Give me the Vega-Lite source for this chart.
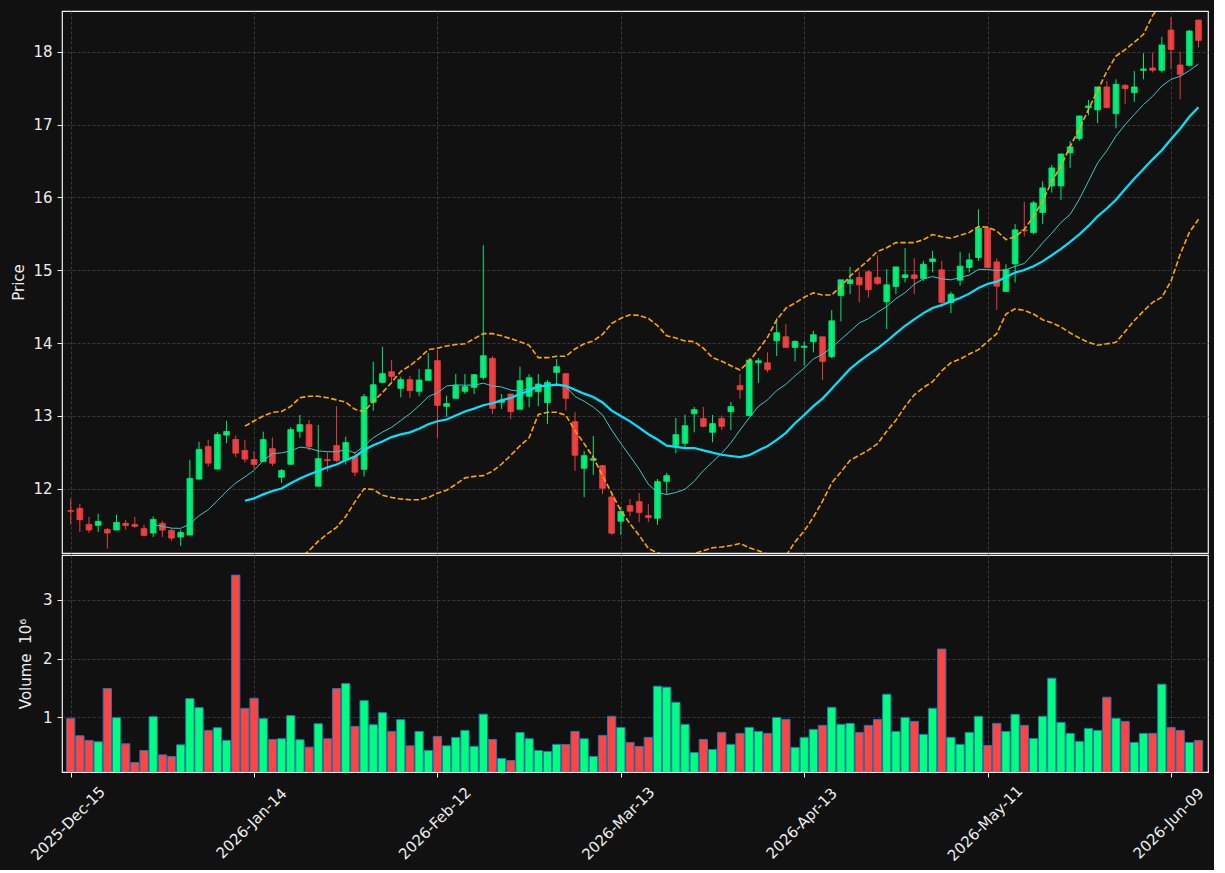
{
  "$schema": "https://vega.github.io/schema/vega-lite/v6.json",
  "background": "#111111",
  "padding": {"left": 10, "top": 10, "right": 5, "bottom": 5},
  "datasets": {
    "ohlc": [
      {"i":0,"open":11.700,"high":11.863,"low":11.511,"close":11.690,"volume":0.982},
      {"i":1,"open":11.730,"high":11.794,"low":11.406,"close":11.575,"volume":0.686},
      {"i":2,"open":11.511,"high":11.616,"low":11.392,"close":11.433,"volume":0.607},
      {"i":3,"open":11.497,"high":11.657,"low":11.406,"close":11.552,"volume":0.584},
      {"i":4,"open":11.442,"high":11.460,"low":11.177,"close":11.392,"volume":1.490},
      {"i":5,"open":11.433,"high":11.643,"low":11.433,"close":11.538,"volume":0.994},
      {"i":6,"open":11.525,"high":11.575,"low":11.438,"close":11.497,"volume":0.549},
      {"i":7,"open":11.511,"high":11.616,"low":11.465,"close":11.483,"volume":0.230},
      {"i":8,"open":11.456,"high":11.506,"low":11.342,"close":11.360,"volume":0.435},
      {"i":9,"open":11.392,"high":11.621,"low":11.337,"close":11.579,"volume":1.011,"ma10":11.510},
      {"i":10,"open":11.525,"high":11.557,"low":11.337,"close":11.433,"volume":0.361,"ma10":11.484},
      {"i":11,"open":11.429,"high":11.447,"low":11.287,"close":11.323,"volume":0.333,"ma10":11.459},
      {"i":12,"open":11.337,"high":11.438,"low":11.214,"close":11.401,"volume":0.532,"ma10":11.456},
      {"i":13,"open":11.364,"high":12.398,"low":11.364,"close":12.142,"volume":1.319,"ma10":11.515},
      {"i":14,"open":12.133,"high":12.645,"low":12.124,"close":12.540,"volume":1.165,"ma10":11.630},
      {"i":15,"open":12.581,"high":12.672,"low":12.306,"close":12.352,"volume":0.777,"ma10":11.711},
      {"i":16,"open":12.270,"high":12.777,"low":12.270,"close":12.745,"volume":0.823,"ma10":11.836},
      {"i":17,"open":12.736,"high":12.933,"low":12.626,"close":12.786,"volume":0.607,"ma10":11.966},
      {"i":18,"open":12.677,"high":12.731,"low":12.434,"close":12.489,"volume":3.421,"ma10":12.079},
      {"i":19,"open":12.526,"high":12.672,"low":12.361,"close":12.407,"volume":1.153,"ma10":12.162,"ma20":11.836,"bb_upper":12.86,"bb_lower":10.82},
      {"i":20,"open":12.402,"high":12.517,"low":12.274,"close":12.334,"volume":1.324,"ma10":12.252,"ma20":11.868,"bb_upper":12.93,"bb_lower":10.81},
      {"i":21,"open":12.373,"high":12.785,"low":12.373,"close":12.675,"volume":0.977,"ma10":12.387,"ma20":11.923,"bb_upper":13.00,"bb_lower":10.85},
      {"i":22,"open":12.551,"high":12.702,"low":12.314,"close":12.350,"volume":0.623,"ma10":12.482,"ma20":11.969,"bb_upper":13.05,"bb_lower":10.89},
      {"i":23,"open":12.158,"high":12.272,"low":12.080,"close":12.250,"volume":0.635,"ma10":12.493,"ma20":12.004,"bb_upper":13.06,"bb_lower":10.95},
      {"i":24,"open":12.336,"high":12.844,"low":12.336,"close":12.812,"volume":1.028,"ma10":12.520,"ma20":12.075,"bb_upper":13.13,"bb_lower":11.02},
      {"i":25,"open":12.789,"high":13.013,"low":12.698,"close":12.881,"volume":0.618,"ma10":12.573,"ma20":12.142,"bb_upper":13.25,"bb_lower":11.05},
      {"i":26,"open":12.881,"high":12.944,"low":12.524,"close":12.579,"volume":0.492,"ma10":12.556,"ma20":12.196,"bb_upper":13.27,"bb_lower":11.15},
      {"i":27,"open":12.035,"high":12.876,"low":12.035,"close":12.414,"volume":0.891,"ma10":12.519,"ma20":12.243,"bb_upper":13.27,"bb_lower":11.28},
      {"i":28,"open":12.400,"high":12.501,"low":12.236,"close":12.387,"volume":0.635,"ma10":12.509,"ma20":12.294,"bb_upper":13.25,"bb_lower":11.38},
      {"i":29,"open":12.593,"high":13.132,"low":12.364,"close":12.387,"volume":1.490,"ma10":12.507,"ma20":12.334,"bb_upper":13.22,"bb_lower":11.47},
      {"i":30,"open":12.400,"high":12.716,"low":12.332,"close":12.634,"volume":1.575,"ma10":12.537,"ma20":12.394,"bb_upper":13.19,"bb_lower":11.62},
      {"i":31,"open":12.446,"high":12.501,"low":12.172,"close":12.227,"volume":0.846,"ma10":12.492,"ma20":12.440,"bb_upper":13.09,"bb_lower":11.82},
      {"i":32,"open":12.267,"high":13.301,"low":12.167,"close":13.264,"volume":1.284,"ma10":12.584,"ma20":12.533,"bb_upper":13.06,"bb_lower":12.00},
      {"i":33,"open":13.187,"high":13.745,"low":13.072,"close":13.429,"volume":0.874,"ma10":12.701,"ma20":12.597,"bb_upper":13.20,"bb_lower":11.99},
      {"i":34,"open":13.461,"high":13.950,"low":13.461,"close":13.580,"volume":1.079,"ma10":12.778,"ma20":12.649,"bb_upper":13.32,"bb_lower":11.91},
      {"i":35,"open":13.607,"high":13.767,"low":13.461,"close":13.543,"volume":0.760,"ma10":12.844,"ma20":12.709,"bb_upper":13.46,"bb_lower":11.88},
      {"i":36,"open":13.379,"high":13.539,"low":13.255,"close":13.498,"volume":0.960,"ma10":12.936,"ma20":12.746,"bb_upper":13.61,"bb_lower":11.86},
      {"i":37,"open":13.498,"high":13.548,"low":13.246,"close":13.347,"volume":0.515,"ma10":13.030,"ma20":12.774,"bb_upper":13.69,"bb_lower":11.85},
      {"i":38,"open":13.338,"high":13.644,"low":13.269,"close":13.493,"volume":0.760,"ma10":13.140,"ma20":12.825,"bb_upper":13.79,"bb_lower":11.85},
      {"i":39,"open":13.489,"high":13.864,"low":13.489,"close":13.635,"volume":0.435,"ma10":13.265,"ma20":12.886,"bb_upper":13.91,"bb_lower":11.88},
      {"i":40,"open":13.759,"high":13.905,"low":12.698,"close":13.146,"volume":0.675,"ma10":13.316,"ma20":12.927,"bb_upper":13.93,"bb_lower":11.94},
      {"i":41,"open":13.132,"high":13.279,"low":12.985,"close":13.169,"volume":0.515,"ma10":13.410,"ma20":12.951,"bb_upper":13.96,"bb_lower":11.98},
      {"i":42,"open":13.242,"high":13.576,"low":13.242,"close":13.420,"volume":0.658,"ma10":13.426,"ma20":13.005,"bb_upper":13.98,"bb_lower":12.06},
      {"i":43,"open":13.338,"high":13.576,"low":13.301,"close":13.402,"volume":0.777,"ma10":13.423,"ma20":13.062,"bb_upper":13.99,"bb_lower":12.15},
      {"i":44,"open":13.392,"high":13.576,"low":13.301,"close":13.566,"volume":0.504,"ma10":13.422,"ma20":13.100,"bb_upper":14.06,"bb_lower":12.17},
      {"i":45,"open":13.529,"high":15.345,"low":13.498,"close":13.827,"volume":1.054,"ma10":13.450,"ma20":13.147,"bb_upper":14.13,"bb_lower":12.18},
      {"i":46,"open":13.790,"high":13.822,"low":13.027,"close":13.104,"volume":0.623,"ma10":13.411,"ma20":13.174,"bb_upper":14.13,"bb_lower":12.24},
      {"i":47,"open":13.187,"high":13.301,"low":13.096,"close":13.219,"volume":0.299,"ma10":13.398,"ma20":13.214,"bb_upper":14.10,"bb_lower":12.34},
      {"i":48,"open":13.301,"high":13.301,"low":12.958,"close":13.059,"volume":0.265,"ma10":13.355,"ma20":13.247,"bb_upper":14.06,"bb_lower":12.46},
      {"i":49,"open":13.091,"high":13.676,"low":13.091,"close":13.484,"volume":0.743,"ma10":13.340,"ma20":13.302,"bb_upper":14.02,"bb_lower":12.59},
      {"i":50,"open":13.269,"high":13.576,"low":13.118,"close":13.525,"volume":0.635,"ma10":13.378,"ma20":13.347,"bb_upper":13.97,"bb_lower":12.70},
      {"i":51,"open":13.333,"high":13.576,"low":13.132,"close":13.438,"volume":0.435,"ma10":13.404,"ma20":13.407,"bb_upper":13.80,"bb_lower":13.02},
      {"i":52,"open":13.182,"high":13.493,"low":12.890,"close":13.461,"volume":0.418,"ma10":13.409,"ma20":13.417,"bb_upper":13.80,"bb_lower":13.05},
      {"i":53,"open":13.598,"high":13.781,"low":13.438,"close":13.676,"volume":0.538,"ma10":13.436,"ma20":13.430,"bb_upper":13.82,"bb_lower":13.05},
      {"i":54,"open":13.580,"high":13.580,"low":13.073,"close":13.242,"volume":0.538,"ma10":13.404,"ma20":13.413,"bb_upper":13.82,"bb_lower":13.01},
      {"i":55,"open":12.921,"high":13.050,"low":12.245,"close":12.460,"volume":0.760,"ma10":13.267,"ma20":13.359,"bb_upper":13.92,"bb_lower":12.80},
      {"i":56,"open":12.281,"high":12.519,"low":11.884,"close":12.455,"volume":0.635,"ma10":13.202,"ma20":13.306,"bb_upper":13.99,"bb_lower":12.62},
      {"i":57,"open":12.392,"high":12.725,"low":12.190,"close":12.414,"volume":0.333,"ma10":13.121,"ma20":13.260,"bb_upper":14.03,"bb_lower":12.43},
      {"i":58,"open":12.318,"high":12.318,"low":11.929,"close":12.007,"volume":0.692,"ma10":13.016,"ma20":13.185,"bb_upper":14.12,"bb_lower":12.18},
      {"i":59,"open":11.888,"high":11.943,"low":11.367,"close":11.390,"volume":1.017,"ma10":12.807,"ma20":13.073,"bb_upper":14.27,"bb_lower":11.94},
      {"i":60,"open":11.554,"high":11.755,"low":11.367,"close":11.687,"volume":0.828,"ma10":12.623,"ma20":13.000,"bb_upper":14.34,"bb_lower":11.70},
      {"i":61,"open":11.769,"high":11.858,"low":11.623,"close":11.691,"volume":0.572,"ma10":12.448,"ma20":12.926,"bb_upper":14.39,"bb_lower":11.52},
      {"i":62,"open":11.824,"high":11.943,"low":11.540,"close":11.673,"volume":0.504,"ma10":12.270,"ma20":12.839,"bb_upper":14.38,"bb_lower":11.36},
      {"i":63,"open":11.632,"high":11.792,"low":11.540,"close":11.604,"volume":0.658,"ma10":12.062,"ma20":12.749,"bb_upper":14.34,"bb_lower":11.18},
      {"i":64,"open":11.595,"high":12.134,"low":11.504,"close":12.098,"volume":1.530,"ma10":11.948,"ma20":12.676,"bb_upper":14.24,"bb_lower":11.12},
      {"i":65,"open":12.102,"high":12.217,"low":11.929,"close":12.180,"volume":1.513,"ma10":11.920,"ma20":12.593,"bb_upper":14.10,"bb_lower":11.09},
      {"i":66,"open":12.592,"high":12.972,"low":12.487,"close":12.743,"volume":1.256,"ma10":11.949,"ma20":12.575,"bb_upper":14.07,"bb_lower":11.08},
      {"i":67,"open":12.624,"high":13.017,"low":12.578,"close":12.866,"volume":0.880,"ma10":11.994,"ma20":12.558,"bb_upper":14.03,"bb_lower":11.09},
      {"i":68,"open":13.030,"high":13.123,"low":12.775,"close":13.086,"volume":0.401,"ma10":12.102,"ma20":12.559,"bb_upper":14.02,"bb_lower":11.11},
      {"i":69,"open":12.963,"high":13.123,"low":12.843,"close":12.857,"volume":0.623,"ma10":12.249,"ma20":12.528,"bb_upper":13.93,"bb_lower":11.15},
      {"i":70,"open":12.775,"high":13.013,"low":12.638,"close":12.894,"volume":0.452,"ma10":12.369,"ma20":12.496,"bb_upper":13.80,"bb_lower":11.19},
      {"i":71,"open":12.963,"high":13.004,"low":12.807,"close":12.857,"volume":0.743,"ma10":12.486,"ma20":12.467,"bb_upper":13.75,"bb_lower":11.20},
      {"i":72,"open":13.059,"high":13.191,"low":12.807,"close":13.127,"volume":0.538,"ma10":12.631,"ma20":12.450,"bb_upper":13.69,"bb_lower":11.22},
      {"i":73,"open":13.416,"high":13.576,"low":13.233,"close":13.361,"volume":0.726,"ma10":12.807,"ma20":12.435,"bb_upper":13.63,"bb_lower":11.25},
      {"i":74,"open":13.004,"high":13.795,"low":13.004,"close":13.767,"volume":0.828,"ma10":12.974,"ma20":12.461,"bb_upper":13.75,"bb_lower":11.19},
      {"i":75,"open":13.730,"high":13.795,"low":13.452,"close":13.758,"volume":0.760,"ma10":13.132,"ma20":12.526,"bb_upper":13.91,"bb_lower":11.15},
      {"i":76,"open":13.730,"high":13.873,"low":13.598,"close":13.635,"volume":0.726,"ma10":13.221,"ma20":12.585,"bb_upper":14.08,"bb_lower":11.10},
      {"i":77,"open":14.032,"high":14.343,"low":13.822,"close":14.142,"volume":0.999,"ma10":13.348,"ma20":12.671,"bb_upper":14.32,"bb_lower":11.04},
      {"i":78,"open":14.087,"high":14.261,"low":13.941,"close":13.941,"volume":0.965,"ma10":13.434,"ma20":12.768,"bb_upper":14.48,"bb_lower":11.08},
      {"i":79,"open":13.941,"high":14.041,"low":13.749,"close":14.023,"volume":0.487,"ma10":13.551,"ma20":12.900,"bb_upper":14.55,"bb_lower":11.27},
      {"i":80,"open":13.941,"high":14.023,"low":13.690,"close":13.959,"volume":0.658,"ma10":13.657,"ma20":13.013,"bb_upper":14.63,"bb_lower":11.42},
      {"i":81,"open":14.018,"high":14.169,"low":13.873,"close":14.114,"volume":0.794,"ma10":13.783,"ma20":13.134,"bb_upper":14.69,"bb_lower":11.61},
      {"i":82,"open":14.087,"high":14.087,"low":13.493,"close":13.749,"volume":0.863,"ma10":13.845,"ma20":13.238,"bb_upper":14.66,"bb_lower":11.83},
      {"i":83,"open":13.813,"high":14.452,"low":13.795,"close":14.306,"volume":1.170,"ma10":13.939,"ma20":13.373,"bb_upper":14.66,"bb_lower":12.08},
      {"i":84,"open":14.654,"high":14.869,"low":14.297,"close":14.869,"volume":0.880,"ma10":14.050,"ma20":13.512,"bb_upper":14.78,"bb_lower":12.23},
      {"i":85,"open":14.819,"high":15.046,"low":14.672,"close":14.869,"volume":0.897,"ma10":14.161,"ma20":13.646,"bb_upper":14.92,"bb_lower":12.39},
      {"i":86,"open":14.901,"high":14.983,"low":14.558,"close":14.800,"volume":0.743,"ma10":14.277,"ma20":13.749,"bb_upper":15.03,"bb_lower":12.46},
      {"i":87,"open":14.979,"high":15.001,"low":14.626,"close":14.732,"volume":0.863,"ma10":14.336,"ma20":13.842,"bb_upper":15.14,"bb_lower":12.53},
      {"i":88,"open":14.901,"high":15.206,"low":14.796,"close":14.819,"volume":0.965,"ma10":14.424,"ma20":13.929,"bb_upper":15.26,"bb_lower":12.62},
      {"i":89,"open":14.567,"high":15.015,"low":14.193,"close":14.800,"volume":1.393,"ma10":14.502,"ma20":14.026,"bb_upper":15.31,"bb_lower":12.79},
      {"i":90,"open":14.778,"high":15.046,"low":14.672,"close":15.046,"volume":0.760,"ma10":14.610,"ma20":14.134,"bb_upper":15.38,"bb_lower":12.94},
      {"i":91,"open":14.901,"high":15.303,"low":14.833,"close":14.937,"volume":0.999,"ma10":14.693,"ma20":14.238,"bb_upper":15.38,"bb_lower":13.13},
      {"i":92,"open":14.937,"high":15.166,"low":14.672,"close":14.887,"volume":0.931,"ma10":14.807,"ma20":14.326,"bb_upper":15.38,"bb_lower":13.29},
      {"i":93,"open":14.887,"high":15.129,"low":14.855,"close":15.083,"volume":0.709,"ma10":14.884,"ma20":14.412,"bb_upper":15.42,"bb_lower":13.39},
      {"i":94,"open":15.120,"high":15.266,"low":14.970,"close":15.156,"volume":1.153,"ma10":14.913,"ma20":14.481,"bb_upper":15.49,"bb_lower":13.47},
      {"i":95,"open":15.006,"high":15.129,"low":14.489,"close":14.558,"volume":2.162,"ma10":14.882,"ma20":14.521,"bb_upper":15.46,"bb_lower":13.62},
      {"i":96,"open":14.558,"high":14.704,"low":14.412,"close":14.672,"volume":0.658,"ma10":14.869,"ma20":14.573,"bb_upper":15.44,"bb_lower":13.73},
      {"i":97,"open":14.864,"high":15.253,"low":14.787,"close":15.056,"volume":0.538,"ma10":14.901,"ma20":14.619,"bb_upper":15.48,"bb_lower":13.78},
      {"i":98,"open":15.038,"high":15.234,"low":14.970,"close":15.143,"volume":0.743,"ma10":14.934,"ma20":14.679,"bb_upper":15.52,"bb_lower":13.85},
      {"i":99,"open":15.175,"high":15.838,"low":15.129,"close":15.577,"volume":1.017,"ma10":15.012,"ma20":14.757,"bb_upper":15.60,"bb_lower":13.91},
      {"i":100,"open":15.577,"high":15.609,"low":15.038,"close":15.038,"volume":0.521,"ma10":15.011,"ma20":14.811,"bb_upper":15.59,"bb_lower":14.02},
      {"i":101,"open":15.115,"high":15.166,"low":14.455,"close":14.782,"volume":0.897,"ma10":14.995,"ma20":14.844,"bb_upper":15.54,"bb_lower":14.13},
      {"i":102,"open":14.709,"high":15.083,"low":14.709,"close":15.006,"volume":0.760,"ma10":15.007,"ma20":14.907,"bb_upper":15.42,"bb_lower":14.40},
      {"i":103,"open":15.088,"high":15.633,"low":14.833,"close":15.555,"volume":1.051,"ma10":15.054,"ma20":14.969,"bb_upper":15.46,"bb_lower":14.47},
      {"i":104,"open":15.554,"high":15.940,"low":15.465,"close":15.540,"volume":0.863,"ma10":15.093,"ma20":15.003,"bb_upper":15.56,"bb_lower":14.45},
      {"i":105,"open":15.518,"high":15.953,"low":15.496,"close":15.925,"volume":0.640,"ma10":15.229,"ma20":15.056,"bb_upper":15.74,"bb_lower":14.40},
      {"i":106,"open":15.793,"high":16.222,"low":15.633,"close":16.131,"volume":1.017,"ma10":15.375,"ma20":15.122,"bb_upper":15.95,"bb_lower":14.32},
      {"i":107,"open":16.158,"high":16.446,"low":16.067,"close":16.405,"volume":1.667,"ma10":15.510,"ma20":15.206,"bb_upper":16.22,"bb_lower":14.28},
      {"i":108,"open":16.158,"high":16.597,"low":15.962,"close":16.597,"volume":0.914,"ma10":15.656,"ma20":15.295,"bb_upper":16.43,"bb_lower":14.22},
      {"i":109,"open":16.612,"high":16.776,"low":16.401,"close":16.694,"volume":0.726,"ma10":15.767,"ma20":15.389,"bb_upper":16.70,"bb_lower":14.14},
      {"i":110,"open":16.808,"high":17.119,"low":16.776,"close":17.119,"volume":0.589,"ma10":15.975,"ma20":15.493,"bb_upper":16.94,"bb_lower":14.07},
      {"i":111,"open":17.233,"high":17.338,"low":17.128,"close":17.256,"volume":0.811,"ma10":16.223,"ma20":15.609,"bb_upper":17.21,"bb_lower":14.01},
      {"i":112,"open":17.202,"high":17.517,"low":17.019,"close":17.517,"volume":0.777,"ma10":16.474,"ma20":15.741,"bb_upper":17.47,"bb_lower":13.97},
      {"i":113,"open":17.517,"high":17.599,"low":17.224,"close":17.233,"volume":1.342,"ma10":16.642,"ma20":15.848,"bb_upper":17.73,"bb_lower":13.99},
      {"i":114,"open":17.151,"high":17.622,"low":16.950,"close":17.554,"volume":0.982,"ma10":16.843,"ma20":15.968,"bb_upper":17.94,"bb_lower":14.01},
      {"i":115,"open":17.540,"high":17.554,"low":17.279,"close":17.494,"volume":0.931,"ma10":17.000,"ma20":16.115,"bb_upper":18.03,"bb_lower":14.16},
      {"i":116,"open":17.439,"high":17.736,"low":17.311,"close":17.517,"volume":0.572,"ma10":17.139,"ma20":16.257,"bb_upper":18.13,"bb_lower":14.31},
      {"i":117,"open":17.746,"high":17.979,"low":17.622,"close":17.764,"volume":0.726,"ma10":17.275,"ma20":16.392,"bb_upper":18.24,"bb_lower":14.44},
      {"i":118,"open":17.777,"high":17.988,"low":17.714,"close":17.746,"volume":0.726,"ma10":17.389,"ma20":16.523,"bb_upper":18.50,"bb_lower":14.56},
      {"i":119,"open":17.746,"high":18.207,"low":17.714,"close":18.093,"volume":1.564,"ma10":17.529,"ma20":16.648,"bb_upper":18.66,"bb_lower":14.63},
      {"i":120,"open":18.298,"high":18.477,"low":17.768,"close":18.032,"volume":0.828,"ma10":17.621,"ma20":16.798,"bb_upper":18.75,"bb_lower":14.85},
      {"i":121,"open":17.819,"high":18.002,"low":17.348,"close":17.691,"volume":0.777,"ma10":17.664,"ma20":16.943,"bb_upper":18.68,"bb_lower":15.22},
      {"i":122,"open":17.814,"high":18.299,"low":17.814,"close":18.285,"volume":0.572,"ma10":17.741,"ma20":17.107,"bb_upper":18.70,"bb_lower":15.52},
      {"i":123,"open":18.436,"high":18.436,"low":18.057,"close":18.157,"volume":0.606,"ma10":17.833,"ma20":17.238,"bb_upper":18.78,"bb_lower":15.70}
    ]
  },
  "data": {"name": "ohlc"},
  "spacing": 0,
  "resolve": {"scale": {"x": "independent", "y": "independent"}},
  "vconcat": [
    {
      "width": 1146,
      "height": 542,
      "encoding": {
        "x": {"field": "i", "type": "quantitative",
              "scale": {"domain": [-0.4, 123.49], "nice": false, "zero": false},
              "axis": {"values": [0,20,40,60,80,100,120], "labels": false, "ticks": false, "domain": false, "title": null, "grid": true, "minExtent": 0, "maxExtent": 0}}
      },
      "layer": [
        {
          "mark": {"type": "rule", "strokeWidth": 1, "opacity": 0.9, "clip": true},
          "encoding": {
            "y": {"field": "low", "type": "quantitative",
                  "scale": {"domain": [11.118, 18.56], "nice": false, "zero": false},
                  "axis": {"values": [12,13,14,15,16,17,18], "format": "d", "title": "Price", "titleX": -44, "titleBaseline": "middle", "labelPadding": 5, "grid": true}},
            "y2": {"field": "high"},
            "color": {"condition": {"test": "datum.close >= datum.open", "value": "#00ff7f"}, "value": "#ff4444"}
          }
        },
        {
          "mark": {"type": "bar", "width": 5.8, "opacity": 0.9, "strokeWidth": 0.8, "clip": true},
          "encoding": {
            "y": {"field": "open", "type": "quantitative", "scale": {"domain": [11.118, 18.56], "nice": false, "zero": false}},
            "y2": {"field": "close"},
            "color": {"condition": {"test": "datum.close >= datum.open", "value": "#00ff7f"}, "value": "#ff4444"},
            "stroke": {"condition": {"test": "datum.close >= datum.open", "value": "#00ff7f"}, "value": "#ff4444"}
          }
        },
        {
          "mark": {"type": "line", "color": "#3ec6c6", "strokeWidth": 1, "clip": true},
          "encoding": {
            "y": {"field": "ma10", "type": "quantitative", "scale": {"domain": [11.118, 18.56], "nice": false, "zero": false}}
          }
        },
        {
          "mark": {"type": "line", "color": "#00e5ff", "strokeWidth": 2.2, "clip": true},
          "encoding": {
            "y": {"field": "ma20", "type": "quantitative", "scale": {"domain": [11.118, 18.56], "nice": false, "zero": false}}
          }
        },
        {
          "mark": {"type": "line", "color": "#ffa500", "strokeWidth": 1.6, "strokeDash": [5.5, 2.4], "clip": true},
          "encoding": {
            "y": {"field": "bb_upper", "type": "quantitative", "scale": {"domain": [11.118, 18.56], "nice": false, "zero": false}}
          }
        },
        {
          "mark": {"type": "line", "color": "#ffa500", "strokeWidth": 1.6, "strokeDash": [5.5, 2.4], "clip": true},
          "encoding": {
            "y": {"field": "bb_lower", "type": "quantitative", "scale": {"domain": [11.118, 18.56], "nice": false, "zero": false}}
          }
        }
      ]
    },
    {
      "width": 1146,
      "height": 217,
      "mark": {"type": "bar", "width": 8.3, "stroke": "#1f77b4", "strokeWidth": 1, "clip": true},
      "encoding": {
        "x": {"field": "i", "type": "quantitative",
              "scale": {"domain": [-0.4, 123.49], "nice": false, "zero": false},
              "axis": {"values": [0,20,40,60,80,100,120], "title": null, "grid": true, "domain": false,
                       "labelExpr": "['2025-Dec-15','2026-Jan-14','2026-Feb-12','2026-Mar-13','2026-Apr-13','2026-May-11','2026-Jun-09'][round(datum.value/20)]",
                       "labelAngle": -45, "labelAlign": "center", "labelBaseline": "middle", "labelPadding": 46, "labelOffset": -3,
                       "labelOverlap": false, "labelFlush": false, "labelBound": false}},
        "y": {"field": "volume", "type": "quantitative",
              "scale": {"domain": [0.069, 3.763], "nice": false, "zero": false},
              "axis": {"values": [1,2,3], "format": "d", "title": "Volume\u00a0\u00a010⁶", "titleX": -37, "titleBaseline": "middle", "labelPadding": 5, "grid": true}},
        "color": {"condition": {"test": "datum.close >= datum.open", "value": "#00ff7f"}, "value": "#ff4444"}
      }
    }
  ],
  "config": {
    "background": "#111111",
    "view": {"stroke": "#f2f2f2", "strokeWidth": 1.2, "fill": "#111111"},
    "axis": {
      "labelColor": "#eeeeee", "titleColor": "#eeeeee", "tickColor": "#eeeeee",
      "labelFont": "DejaVu Sans", "titleFont": "DejaVu Sans",
      "labelFontSize": 15, "titleFontSize": 15, "titleFontWeight": "normal",
      "tickSize": 5, "tickWidth": 1, "domain": false,
      "gridColor": "#444444", "gridDash": [3, 2], "gridWidth": 0.8
    }
  }
}
